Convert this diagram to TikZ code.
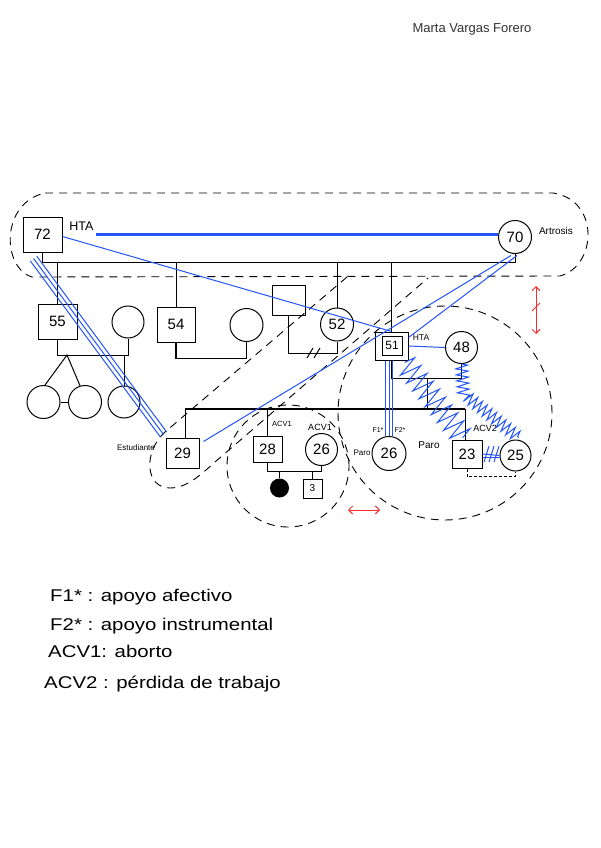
\documentclass[tikz,border=0pt]{standalone}
\usepackage{fontspec}
\usepackage{graphicx}
\setmainfont{Liberation Sans}
\usetikzlibrary{arrows.meta,decorations.pathmorphing,calc}
\definecolor{bl}{RGB}{35,85,250}
\definecolor{rd}{RGB}{250,45,45}
\begin{document}
\begin{tikzpicture}[x=1pt,y=-1pt,
  male/.style={draw,line width=1pt,inner sep=0pt,font=\fontsize{15}{15}\selectfont},
  female/.style={draw,circle,line width=1pt,inner sep=0pt,font=\fontsize{15}{15}\selectfont},
  lab/.style={inner sep=0pt},
  conn/.style={line width=1pt},
  bthin/.style={bl,line width=1pt},
  bthick/.style={bl,line width=2.4pt},
  dsh/.style={line width=0.9pt,dash pattern=on 8pt off 6pt},
  rarrow/.style={rd,line width=1pt,{Straight Barb[length=4pt,width=8pt]}-{Straight Barb[length=4pt,width=8pt]}},
  legend/.style={anchor=base west,inner sep=0pt,font=\fontsize{17}{17}\selectfont}
]
\fill[white] (0,0) rectangle (600,848);
\useasboundingbox (0,0) rectangle (600,848);

\node[font=\fontsize{13}{13}\selectfont,text=black!80] (title) at (472,29.5) {Marta Vargas Forero};

% dashed groupings
\draw[dsh] (45,193) -- (553,193) .. controls (600,200) and (597,266) .. (560,276) -- (32,277) .. controls (2,268) and (0,203) .. (45,193);
\draw[dsh] (347,277) -- (165,432) .. controls (143,452) and (145,488) .. (170,488) .. controls (190,488) and (205,470) .. (222,456) -- (428,278);
\draw[dsh] (445,413) circle[radius=107pt];
\draw[dsh] (288,466) circle[radius=61pt];

% persons
\node[male,minimum width=39pt,minimum height=35pt] (p72) at (42.5,234.5) {72};
\node[female,minimum size=33pt] (p70) at (515,237) {70};
\node[male,minimum width=39pt,minimum height=35pt] (p55) at (57.5,321.5) {55};
\node[female,minimum size=32pt] (w55) at (128,322) {};
\node[female,minimum size=33pt] (t1) at (43.5,402) {};
\node[female,minimum size=33pt] (t2) at (85,402) {};
\node[female,minimum size=32pt] (c55) at (124,402) {};
\node[male,minimum width=38pt,minimum height=35pt] (p54) at (176,324.5) {54};
\node[female,minimum size=33pt] (w54) at (246.5,325) {};
\node[male,minimum width=33pt,minimum height=30pt] (h52) at (288.5,300) {};
\node[female,minimum size=33pt] (p52) at (337,324.5) {52};
\node[male,minimum width=33pt,minimum height=28pt] (p51) at (391.5,346) {};
\node[male,minimum width=20pt,minimum height=19pt,font=\fontsize{12}{12}\selectfont] (p51i) at (392,345.5) {51};
\node[female,minimum size=32pt] (p48) at (461.5,347.5) {48};
\node[male,minimum width=33pt,minimum height=30pt] (p29) at (182.5,453) {29};
\node[male,minimum width=29pt,minimum height=26pt] (p28) at (267.5,449) {28};
\node[female,minimum size=32pt] (p26a) at (321.5,449.5) {26};
\node[circle,fill=black,minimum size=19pt,inner sep=0pt] (d1) at (279.5,488) {};
\node[male,minimum width=19pt,minimum height=19pt,font=\fontsize{10}{10}\selectfont] (s3) at (312.5,488.5) {3};
\node[female,minimum size=34pt] (p26b) at (389,453.5) {26};
\node[male,minimum width=30pt,minimum height=28pt] (p23) at (467,454) {23};
\node[female,minimum size=31pt] (p25) at (515.5,455.5) {25};

% labels
\node[lab,font=\fontsize{12.5}{12.5}\selectfont] (hta72) at (81.5,226.5) {HTA};
\node[lab,font=\fontsize{10}{10}\selectfont] (artr) at (556,231) {Artrosis};
\node[lab,font=\fontsize{8.5}{8.5}\selectfont] (hta51) at (421,338) {HTA};
\node[lab,font=\fontsize{8}{8}\selectfont] (estu) at (136,448) {Estudiante};
\node[lab,font=\fontsize{7.5}{7.5}\selectfont] (acv28) at (282,424) {ACV1};
\node[lab,font=\fontsize{9}{9}\selectfont] (acv26) at (320,427) {ACV1};
\node[lab,font=\fontsize{7}{7}\selectfont] (f1) at (378,430) {F1*};
\node[lab,font=\fontsize{7}{7}\selectfont] (f2) at (400,430) {F2*};
\node[lab,font=\fontsize{8}{8}\selectfont] (paro1) at (362,453) {Paro};
\node[lab,font=\fontsize{10}{10}\selectfont] (paro2) at (429,445) {Paro};
\node[lab,font=\fontsize{9}{9}\selectfont] (acv23) at (485,428) {ACV2};

% first generation sibship
\coordinate (sA) at (42.5,262);
\coordinate (sB) at (515,262);
\draw[conn] (p72.south) -- (sA) -- (sB) -- (p70.south);
\draw[conn] (p55.north) -- (p55.north |- sA);
\draw[conn] (p54.north) -- (p54.north |- sA);
\draw[conn] (p52.north) -- (p52.north |- sA);
\draw[conn] (p51.north) -- (p51.north |- sA);

% 55 family
\draw[conn] (p55.south) -- ++(0,16) coordinate (m55) -| (w55.south);
\coordinate (tw) at (67,355);
\draw[conn] (t1.85) -- (tw) -- (t2.107);
\draw[conn] (t1.east) -- (t2.west);
\draw[conn] (c55.north) -- (c55.north |- m55);

% 54 marriage
\draw[line width=1.6pt] (p54.south) -- ++(0,16) -| (w54.south);

% 52 marriage (divorced)
\draw[conn] (h52.south) -- ++(0,38) coordinate (m52) -| (p52.south);
\draw[conn] (307,358) -- (313,348);
\draw[conn] (314,358) -- (320,348);

% 51 - 48
\draw[bthin] (p51.east) -- (p48.west);
\draw[conn] (p51.south) -- ++(0,18) -| (p48.south);
\coordinate (m51c) at (427,378);
\coordinate (sC) at (185,409);
\coordinate (sD) at (465,409);
\draw[conn] (m51c) -- (m51c |- sC);
\draw[line width=1.8pt] (sC) -- (sD);
\draw[conn] (sC) -- (sC |- p29.north);
\draw[conn] (p28.north) -- (p28.north |- sC);
\draw[conn] (p26b.north) -- (p26b.north |- sC);
\draw[conn] (sD) -- (sD |- p23.north);
\foreach \o in {-3.5,0,3.5}
  \draw[bthin] ($(p26b.north |- p51.south)+(\o,0)$) -- ($(p26b.north)+(\o,0)$);

% 28 - 26
\draw[conn] (p28.south) -- ++(0,9) coordinate (m28) -| (p26a.south);
\draw[conn] (d1.north) -- (d1.north |- m28);
\draw[conn] (s3.north) -- (s3.north |- m28);

% 23 - 25
\draw[line width=0.8pt,dash pattern=on 3pt off 2pt] (p23.south) -- ++(0,8) -| (p25.south);
\draw[bthin] (p23.east) -- (p25.west);
\draw[bthin] (483,457) -- (501,457);
\foreach \x in {486,491,496} \draw[bthin] (\x-2,462) -- (\x+3,446);

% blue relations
\draw[bthick] ([xshift=2pt]hta72.east |- p72.east) -- (p70.west |- p72.east);
\draw[bthin] ([yshift=-2pt]p72.east) -- (p51.north);
\draw[bthin] ([xshift=-4pt,yshift=-1.5pt]p70.south) -- ([shift={(4,4)}]p29.north east);
\draw[bthin] ([xshift=2pt,yshift=-1.5pt]p70.south) -- ([yshift=-6pt]p51.north east);
\foreach \o in {-4,0,4}
  \draw[bthin] ($(p72.south west)+(11,6)+(0.81*\o,-0.587*\o)$) -- ($(p29.north west)+(-2,-3)+(0.81*\o,-0.587*\o)$);
\draw[bthin,decorate,decoration={zigzag,segment length=10pt,amplitude=11pt}] ($(p51.south east)+(-4,2)$) -- ($(p23.north)+(-4,-2)$);
\draw[bthin,decorate,decoration={zigzag,segment length=6pt,amplitude=6pt}] (p48.south) -- ++(2,30) -- ($(p25.north)+(3,-2)$);

% red arrows
\draw[rarrow] (536,286) -- (536,334);
\draw[rd,line width=0.8pt] (532,311) -- (540,303);
\draw[rarrow] (348,510) -- (380,510);

% legend
\node[legend] (lg1) at (50,601) {\scalebox{1.2}[1]{F1* : apoyo afectivo}};
\node[legend] (lg2) at (50,630) {\scalebox{1.2}[1]{F2* : apoyo instrumental}};
\node[legend] (lg3) at (48,657) {\scalebox{1.2}[1]{ACV1: aborto}};
\node[legend] (lg4) at (44,688) {\scalebox{1.2}[1]{ACV2 : pérdida de trabajo}};
\end{tikzpicture}
\end{document}
